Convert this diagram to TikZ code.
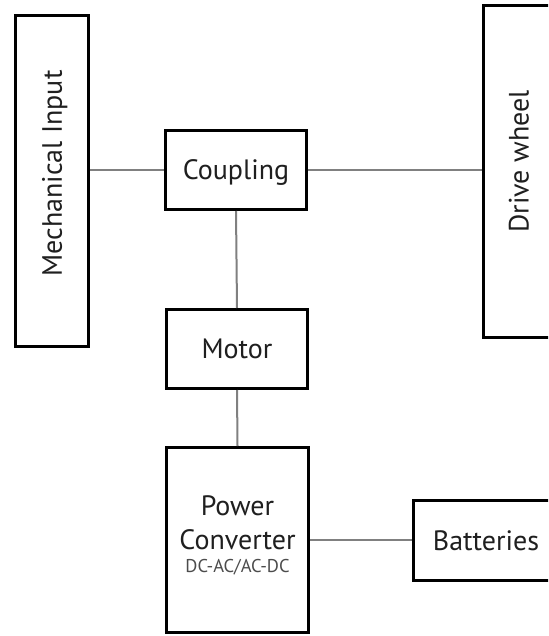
\documentclass[tikz,border=0pt]{standalone}
\usepackage{fontspec}
\setmainfont{PT Sans}
\begin{document}
\begin{tikzpicture}[x=1pt,y=-1pt,
  box/.style={draw=black, line width=3pt, inner sep=0pt, fill=white},
  conn/.style={draw=black!50, line width=2pt},
  lbl/.style={font=\fontsize{28}{33}\selectfont, text=black!88, inner sep=0pt, text height=19.6pt, text depth=0pt},
  small/.style={font=\fontsize{18.5}{20}\selectfont, text=black!70, inner sep=0pt}]
\useasboundingbox (0,0) rectangle (548,636);
\clip (0,0) rectangle (548,636);
% boxes
\node[box, minimum width=73pt, minimum height=331pt] (mech) at (52,181) {};
\node[lbl, rotate=90] (mechtxt) at (52,173.5) {Mechanical Input};
\node[box, minimum width=73pt, minimum height=332pt] (drive) at (520,171.5) {};
\node[lbl, rotate=90] (drivetxt) at (518.7,161.5) {Drive wheel};
\node[box, lbl, minimum width=141pt, minimum height=79pt] (coup) at (236,170) {Coupling};
\node[box, lbl, minimum width=141pt, minimum height=79pt] (motor) at (237,349) {Motor};
\node[box, minimum width=142pt, minimum height=185pt] (pc) at (237.5,540) {};
\node[lbl, anchor=base] (pcl1) at (237.5,515) {Power};
\node[lbl, anchor=base] (pcl2) at (237.5,549.3) {Converter};
\node[small, anchor=base] (pcl3) at (237.5,572.7) {DC-AC/AC-DC};
\node[box, lbl, minimum width=145pt, minimum height=80pt] (bat) at (486,540.5) {Batteries};
% connectors
\draw[conn] (coup.west -| mech.east) -- (coup.west);
\draw[conn] (coup.east) -- (coup.east -| drive.west);
\draw[conn] (coup.south) -- (motor.north);
\draw[conn] (motor.south) -- (pc.north);
\draw[conn] (pc.east) -- (pc.east -| bat.west);
\end{tikzpicture}
\end{document}
